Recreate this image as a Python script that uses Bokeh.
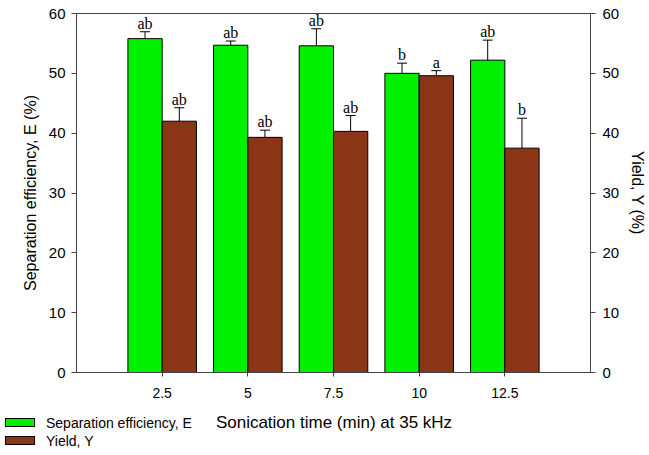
from bokeh.plotting import figure
from bokeh.models import (ColumnDataSource, Range1d, LinearAxis, Whisker, TeeHead,
                          FixedTicker, Div)
from bokeh.layouts import column
from bokeh.transform import dodge
from bokeh.core.properties import value
from bokeh.embed import file_html
from bokeh.resources import INLINE

# Data
time = [2.5, 5, 7.5, 10, 12.5]
tick_labels = ["2.5", "5", "7.5", "10", "12.5"]
efficiency = [55.8, 54.7, 54.6, 50.0, 52.2]
efficiency_err = [1.15, 0.7, 2.85, 1.7, 3.35]
efficiency_letters = ["ab", "ab", "ab", "b", "ab"]
yield_y = [42.0, 39.3, 40.3, 49.6, 37.5]
yield_err = [2.25, 1.2, 2.65, 0.85, 5.0]
yield_letters = ["ab", "ab", "ab", "a", "b"]
y_ticks = [0, 10, 20, 30, 40, 50, 60]
series_names = ["Separation efficiency, E", "Yield, Y"]
x_title = "Sonication time (min) at 35 kHz"

GREEN = "#00f000"
BROWN = "#8a3616"
AXIS = "#444444"
SANS = "Liberation Sans"

src = ColumnDataSource(dict(
    time=time,
    e=efficiency,
    e_up=[v + e for v, e in zip(efficiency, efficiency_err)],
    e_lo=[v - e for v, e in zip(efficiency, efficiency_err)],
    e_lab=efficiency_letters,
    y=yield_y,
    y_up=[v + e for v, e in zip(yield_y, yield_err)],
    y_lo=[v - e for v, e in zip(yield_y, yield_err)],
    y_lab=yield_letters,
))

p = figure(width=649, height=410, output_backend="svg", toolbar_location=None,
           x_range=Range1d(0, 15), y_range=Range1d(0, 60),
           min_border_left=76, min_border_right=57, min_border_top=13, min_border_bottom=38)
p.extra_y_ranges = {"y2": Range1d(0, 60)}

p.xgrid.visible = False
p.ygrid.visible = False
p.outline_line_color = AXIS
p.outline_line_width = 1

p.vbar(x=dodge("time", -0.5, range=p.x_range), top="e", width=1.0, bottom=0, source=src,
       fill_color=GREEN, line_color="black", line_width=1)
p.vbar(x=dodge("time", 0.5, range=p.x_range), top="y", width=1.0, bottom=0, source=src,
       fill_color=BROWN, line_color="black", line_width=1, y_range_name="y2")

for off, up, lo, yr in [(-0.5, "e_up", "e_lo", "default"), (0.5, "y_up", "y_lo", "y2")]:
    w = Whisker(base=dodge("time", off, range=p.x_range), upper=up, lower=lo, source=src,
                line_color="black", line_width=1, y_range_name=yr,
                upper_head=TeeHead(size=10, line_color="black", line_width=1),
                lower_head=TeeHead(size=10, line_color="black", line_width=1))
    p.add_layout(w)

p.text(x=dodge("time", -0.5, range=p.x_range), y="e_up", text="e_lab", source=src,
       text_align="center", text_baseline="bottom", text_font=value("Liberation Serif"),
       text_font_size="16px", text_color="black")
p.text(x=dodge("time", 0.5, range=p.x_range), y="y_up", text="y_lab", source=src,
       text_align="center", text_baseline="bottom", text_font=value("Liberation Serif"),
       text_font_size="16px", text_color="black", y_range_name="y2")

# axes
xa = p.xaxis[0]
xa.ticker = FixedTicker(ticks=time)
xa.major_label_overrides = {t: l for t, l in zip(time, tick_labels)}
xa.major_label_standoff = 11

ya = p.yaxis[0]
ya.ticker = FixedTicker(ticks=y_ticks)
ya.axis_label = "Separation efficiency, E (%)"
ya.axis_label_standoff = 7
ya.major_label_standoff = 6

ra = LinearAxis(y_range_name="y2", axis_label="Yield, Y (%)",
                ticker=FixedTicker(ticks=y_ticks))
p.add_layout(ra, "right")
ra.axis_label_standoff = 7
ra.major_label_standoff = 7

for ax in [xa, ya, ra]:
    ax.axis_line_color = AXIS
    ax.major_tick_line_color = AXIS
    ax.major_tick_out = 5
    ax.major_tick_in = 0
    ax.minor_tick_line_color = None
    ax.major_label_text_font = SANS
    ax.major_label_text_font_size = "15px"
    ax.major_label_text_color = "black"
    ax.axis_label_text_font = SANS
    ax.axis_label_text_font_size = "16px"
    ax.axis_label_text_font_style = "normal"
    ax.axis_label_text_color = "black"
xa.major_tick_out = 4
xa.major_label_text_font_size = "14px"

# bottom strip: legend (left) and x-axis title (centred under the plot frame)
FONT_CSS = "font-family:'Liberation Sans',Arial,sans-serif;color:#000;white-space:nowrap;"


def swatch(top, color):
    return ('<div style="position:absolute;left:5px;top:%dpx;width:30px;height:9px;'
            'background:%s;border:1px solid #000;"></div>' % (top, color))


def legend_text(top, txt):
    return ('<div style="position:absolute;left:46px;top:%dpx;height:16px;line-height:16px;'
            'font-size:14px;%s">%s</div>' % (top, FONT_CSS, txt))


html = (
    '<div style="position:relative;width:649px;height:45px;margin:0;padding:0;">'
    + swatch(8, GREEN) + legend_text(5, series_names[0])
    + swatch(26, BROWN) + legend_text(23, series_names[1])
    + ('<div style="position:absolute;left:76px;width:516px;top:3px;height:20px;'
       'line-height:20px;text-align:center;font-size:17px;%s">%s</div>' % (FONT_CSS, x_title))
    + '</div>'
)
legend_div = Div(text=html, width=649, height=45, styles={"margin": "0", "padding": "0"})

layout = column(p, legend_div, spacing=0)
open("out.html", "w").write(file_html(layout, INLINE))
